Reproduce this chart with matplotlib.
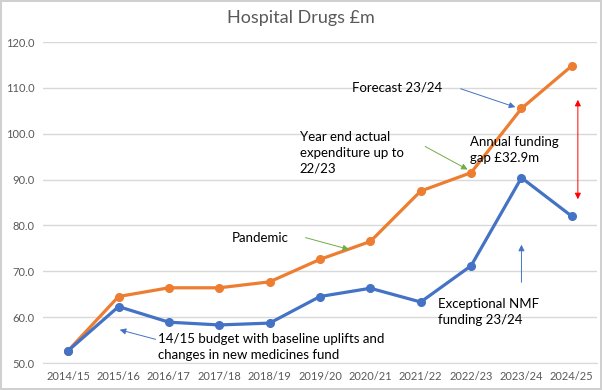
import matplotlib.pyplot as plt

plt.rcParams['font.family'] = ['Lato', 'DejaVu Sans']

# Financial years and values (£m)
years = ['2014/15', '2015/16', '2016/17', '2017/18', '2018/19', '2019/20',
         '2020/21', '2021/22', '2022/23', '2023/24', '2024/25']
expenditure = [52.7, 64.5, 66.4, 66.4, 67.7, 72.6, 76.5, 87.5, 91.5, 105.5, 114.8]
budget = [52.7, 62.3, 58.9, 58.3, 58.7, 64.5, 66.3, 63.3, 71.2, 90.4, 82.0]
y_ticks = [50, 60, 70, 80, 90, 100, 110, 120]

orange = '#ED7D31'
blue = '#4472C4'
green = '#70AD47'
grey_txt = '#595959'

fig = plt.figure(figsize=(6.02, 3.9), dpi=100)
fig.patch.set_edgecolor('#D0D0D0')
fig.patch.set_linewidth(1.5)
ax = fig.add_axes([43 / 602, 27 / 390, 554 / 602, 321 / 390])

x = list(range(len(years)))
ax.plot(x, expenditure, '-o', color=orange, lw=2.3, markersize=5.5, zorder=3)
ax.plot(x, budget, '-o', color=blue, lw=2.3, markersize=5.5, zorder=3)

ax.set_xlim(-0.5, len(years) - 0.5)
ax.set_ylim(50, 120)
ax.set_xticks(x)
ax.set_xticklabels(years)
ax.set_yticks(y_ticks)
ax.set_yticklabels([f'{v:.1f}' for v in y_ticks])
ax.tick_params(length=0, labelsize=8, colors=grey_txt, pad=6)
ax.grid(axis='y', color='#D9D9D9', lw=1)
ax.set_axisbelow(True)
for side in ['top', 'right', 'left']:
    ax.spines[side].set_visible(False)
ax.spines['bottom'].set_color('#D9D9D9')

fig.text(0.5, 1 - 18 / 390, 'Hospital Drugs £m', ha='center', va='center',
         fontsize=13, color=grey_txt)

fs = 9.5
ax.text(5.63, 110.0, 'Forecast 23/24', fontsize=fs, va='center')
ax.annotate('', xy=(8.93, 105.6), xytext=(7.74, 110.0),
            arrowprops=dict(arrowstyle='-|>', color=blue, lw=0.7, mutation_scale=9))

ax.text(4.6, 95.8, 'Year end actual\nexpenditure up to\n22/23', fontsize=fs,
        va='center', linespacing=1.35)
ax.annotate('', xy=(7.98, 91.9), xytext=(7.04, 97.5),
            arrowprops=dict(arrowstyle='-|>', color=green, lw=0.7, mutation_scale=9))

ax.text(7.98, 96.4, 'Annual funding\ngap £32.9m', fontsize=fs, va='center',
        linespacing=1.35)
ax.annotate('', xy=(10.12, 108.0), xytext=(10.12, 85.1),
            arrowprops=dict(arrowstyle='<|-|>', color='red', lw=0.7, mutation_scale=9))

ax.text(3.25, 77.3, 'Pandemic', fontsize=fs, va='center')
ax.annotate('', xy=(5.63, 74.6), xytext=(4.66, 77.5),
            arrowprops=dict(arrowstyle='-|>', color=green, lw=0.7, mutation_scale=9))

ax.text(7.34, 61.1, 'Exceptional NMF\nfunding 23/24', fontsize=fs, va='center',
        linespacing=1.35)
ax.annotate('', xy=(9.0, 76.4), xytext=(9.0, 67.0),
            arrowprops=dict(arrowstyle='-|>', color=blue, lw=0.7, mutation_scale=9))

ax.text(1.79, 53.5, '14/15 budget with baseline uplifts and\nchanges in new medicines fund',
        fontsize=fs, va='center', linespacing=1.35)
ax.annotate('', xy=(0.97, 57.4), xytext=(1.79, 55.0),
            arrowprops=dict(arrowstyle='-|>', color=blue, lw=0.7, mutation_scale=9))

fig.savefig('out.png', dpi=100)
